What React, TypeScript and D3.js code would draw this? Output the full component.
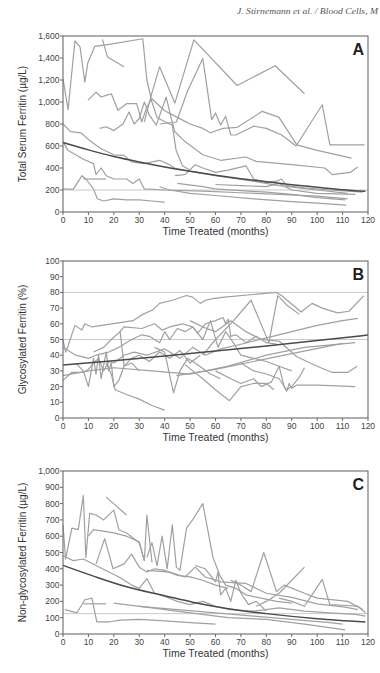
import * as d3 from 'd3';

type Pt = [number, number];

// months on the shared x axis
const monthTicks = [0, 10, 20, 30, 40, 50, 60, 70, 80, 90, 100, 110, 120];

// Panel A: total serum ferritin (µg/L)
const ferritinTicks = [0, 200, 400, 600, 800, 1000, 1200, 1400, 1600];
const ferritinRef = [200];
const ferritinFit: Pt[] = [[0, 632], [10, 565], [20, 505], [30, 455], [40, 410], [50, 370], [60, 335], [70, 303], [80, 275], [90, 248], [100, 225], [110, 203], [119, 188]];
const ferritinSubjects: Pt[][] = [
    [[0, 1210], [2, 930], [4.7, 1555], [6.7, 1500], [8.6, 1180], [9.8, 1360], [12.5, 1505], [20, 1530], [31.4, 1575], [33, 1200], [35, 1000], [37, 860], [40, 820], [43, 790], [44.5, 560], [47, 420], [50, 380]],
    [[15.5, 1570], [17.5, 1410], [24, 1320]],
    [[32, 820], [34.7, 1060], [38, 1320], [44, 990], [51.5, 1565], [68.5, 1150], [83.5, 1330], [95, 1075]],
    [[38, 800], [44.6, 818], [49, 1100], [55, 1395], [58.5, 840], [60, 900], [62, 790], [64, 870], [66, 700], [68, 700], [75, 780], [80, 760], [86, 700], [91.7, 600], [102, 975], [105, 610], [118.6, 610]],
    [[9.8, 1015], [13, 1090], [15, 1045], [17, 1060], [19, 1075], [21.6, 925], [25, 985], [29, 985], [31, 820], [33, 955], [35, 1030], [40, 920], [45, 860], [50, 800], [55, 760], [58, 720], [63, 760], [68.6, 770], [78.4, 915], [85, 860], [92, 610], [100, 560], [113.5, 490]],
    [[14.4, 760], [17, 775], [20, 740], [23.6, 800], [26, 910], [28, 800], [30, 850], [32, 1000], [34, 880], [36.7, 790], [40.6, 1045], [42.6, 850], [44, 730], [48, 640], [55, 520], [62, 470], [72, 500], [76, 460], [90, 430], [103, 400], [106, 340], [113, 360], [116, 410]],
    [[0, 800], [3, 730], [7, 720], [11, 640], [15, 575], [20, 520], [24, 515], [27, 455], [32, 440], [38, 470], [41, 440], [44, 400], [50, 370], [60, 330], [72, 290], [85, 240], [100, 200], [112, 170]],
    [[0, 640], [2, 560], [5, 520], [8, 480], [12, 440], [13, 340], [15, 400], [17, 330], [20, 300], [25, 300], [27.5, 260], [30, 300], [32, 210], [40, 200], [55, 190], [70, 175], [85, 160], [100, 145], [112, 120]],
    [[0, 210], [4, 205], [7.5, 330], [9, 300], [12, 210], [13.5, 120], [16, 100], [20, 120], [25, 110], [30, 110], [35, 100], [40, 90]],
    [[8, 300], [17, 300]],
    [[38, 230], [42, 200], [50, 170], [60, 150], [75, 120], [90, 95], [100, 80], [111.5, 62]],
    [[45, 260], [55, 230], [60, 210], [70, 195], [80, 180], [90, 160], [100, 130], [111, 110]],
    [[44, 330], [48, 340], [52, 430], [55, 400], [60, 360], [65, 380], [72, 420], [75, 300], [80, 270], [84, 280], [86, 300], [88, 240], [95, 220], [105, 200], [118, 180]],
    [[60, 250], [70, 240], [80, 230], [85, 260], [90, 200], [100, 170], [115, 160]],
];

// Panel B: glycosylated ferritin (%)
const glycoTicks = [0, 10, 20, 30, 40, 50, 60, 70, 80, 90, 100];
const glycoRef = [80, 50];
const glycoFit: Pt[] = [[0, 33.7], [20, 36.5], [40, 39.5], [60, 42.6], [80, 45.9], [100, 49.3], [120, 52.8]];
const glycoSubjects: Pt[][] = [
    [[0, 50], [1, 42], [2, 46], [4.7, 59], [7.4, 56], [8.6, 60], [11.4, 58], [27.5, 62], [31.4, 66], [35.4, 69], [38, 73], [43, 75], [48.6, 78], [51, 77], [54, 73], [56, 75], [59, 76], [63.5, 77], [84, 80], [86, 78], [93.7, 67.5], [98, 73], [102, 70], [108, 67], [112.5, 68], [118.4, 78]],
    [[0, 24], [3.4, 29], [8, 29], [10, 31], [12, 35], [14, 38], [16, 30], [18, 36], [20, 35], [24, 40], [28, 42], [33, 40], [40, 44], [46, 38], [51, 45], [56, 40], [62, 44], [70, 47], [82.5, 52], [90, 55], [100, 59], [110, 62], [116, 63.5]],
    [[5, 35], [8, 30], [10, 20], [12, 38], [13, 28], [14, 40], [15, 25], [17, 42], [18, 30], [19, 35], [20, 20], [22, 24], [24, 33], [27, 38], [30, 40], [34, 36], [38, 42], [42, 38], [46, 43], [50, 35], [54, 40]],
    [[17, 35], [19, 28], [20.5, 18], [25, 15], [30, 12], [35, 8], [40, 5]],
    [[0, 45], [5, 40], [10, 38], [13, 40], [18, 42], [22, 45], [27, 50], [31, 53], [34, 52], [38, 48], [40, 55], [42, 50], [45, 57], [48, 55], [51, 58], [55, 50], [58, 62], [61, 45], [64, 55], [67, 48], [70, 40], [75, 38], [80, 36], [85, 33], [90, 30]],
    [[12, 42], [16, 45], [19, 50], [22.5, 55], [24, 33], [27, 35], [30, 30]],
    [[22, 54], [24, 58], [31, 57], [36, 60], [39, 56], [42, 58], [47, 60], [51, 58], [53, 54], [56, 60], [60, 62], [63, 64], [64, 60], [65, 63], [66, 52], [68, 53], [72, 48], [76, 52], [80, 48], [84, 47]],
    [[50, 62], [55, 58], [60, 55], [66, 62], [72, 55], [78, 50], [85, 49], [92, 39], [100, 33], [106, 29], [112, 29], [115.7, 33]],
    [[60, 30], [66, 25], [70, 22], [75, 25], [78, 20], [82, 23], [85, 33], [87, 20], [88, 17], [89, 22], [90, 19], [92, 21], [100, 21], [115, 20]],
    [[70, 35], [75, 30], [80, 28], [85, 25], [88, 18], [90, 20], [93, 26], [95, 32]],
    [[36, 45], [40, 42], [43.5, 16], [46, 30], [49, 38], [52, 35], [58, 28], [62, 25]],
    [[48, 34], [55, 25], [60, 18], [65.5, 11], [70, 20], [75, 22], [80, 22], [83, 18]],
    [[55, 40], [60, 50], [66, 60], [74, 75], [81, 48], [84.5, 78], [88, 72], [93, 66]],
    [[44.6, 27], [60, 31], [75, 36], [90, 41], [110, 47.5]],
    [[0, 27], [10, 30], [20, 32], [35, 30], [50, 28], [65, 33], [80, 40], [95, 45], [115, 48]],
];

// Panel C: non-glycosylated ferritin (µg/L)
const nonGlycoTicks = [0, 100, 200, 300, 400, 500, 600, 700, 800, 900, 1000];
const nonGlycoRef = [125];
const nonGlycoFit: Pt[] = [[0, 421], [12, 355], [25, 290], [40, 235], [51, 195], [65, 155], [80, 125], [100, 94], [119, 74]];
const nonGlycoSubjects: Pt[][] = [
    [[0, 670], [1, 460], [3.5, 650], [6, 640], [8, 850], [9, 470], [10.5, 740], [13, 730], [16, 700], [20, 760], [22, 640], [25, 620], [30, 560], [32, 450]],
    [[17, 840], [25, 730]],
    [[10, 600], [12, 640], [20, 620], [25, 600], [30, 565], [32, 450], [33, 730], [35, 440]],
    [[0, 480], [4, 450], [8, 460], [13, 420], [18, 380], [22, 350], [27, 300], [30, 280], [33, 340], [36, 250], [40, 230], [45, 200], [50, 180], [55, 200], [60, 170], [66, 150], [75, 140], [85, 160], [95, 140], [105, 130], [115, 120], [119, 110]],
    [[13, 430], [16.4, 585], [19.7, 400], [24, 430], [27, 490], [30, 410], [33, 380], [36, 400], [40, 390], [45, 360], [50, 350], [55, 330], [60, 300], [65, 280]],
    [[0.8, 150], [5.5, 130], [8.6, 210], [11.4, 220], [13.3, 75], [18.4, 75], [22.4, 85], [30, 90], [40, 80], [50, 70], [60, 60]],
    [[20, 190], [35, 160], [50, 130], [65, 100], [80, 90], [95, 60], [111, 25]],
    [[30, 170], [45, 150], [60, 130], [75, 110], [90, 90], [105, 70], [110, 60]],
    [[8, 185], [17, 185]],
    [[33, 470], [35, 560], [37, 420], [39, 600], [41, 400], [43, 670], [44.6, 410], [46, 390], [48.6, 650], [51, 700], [55, 800], [59, 470], [61.7, 360], [64, 300], [68, 280], [72, 240], [78, 220], [84, 200], [90, 190]],
    [[66, 330], [70, 300], [74, 260], [79, 500], [84, 260], [87, 300], [95, 250], [100, 220], [112, 200], [118, 150]],
    [[85, 220], [90, 200], [95, 170], [102, 335], [105, 180], [112, 175], [116, 170], [119, 130]],
    [[76, 170], [80, 200], [85, 250], [90, 330], [95, 410]],
    [[52, 420], [56, 400], [60, 320], [61, 380], [62, 240], [64, 280], [66, 200], [68, 330], [70, 250], [73, 180], [76, 200], [80, 140]],
    [[33, 390], [42, 380], [48, 350], [52, 410], [56, 350], [62, 320], [72, 310], [80, 250], [90, 225], [100, 185], [111, 165], [116, 150]],
];

const FONT = "'Liberation Sans', Arial, sans-serif";
const fmt = d3.format(',');

interface PanelProps {
    top: number;
    bottom: number;
    yMax: number;
    yTicks: number[];
    refs: number[];
    fit: Pt[];
    subjects: Pt[][];
    letter: string;
    yLabel: string;
}

function Panel({ top, bottom, yMax, yTicks, refs, fit, subjects, letter, yLabel }: PanelProps) {
    const left = 63;
    const right = 368;
    const x = d3.scaleLinear().domain([0, 120]).range([left, right]);
    const y = d3.scaleLinear().domain([0, yMax]).range([bottom, top]);
    const line = d3.line<Pt>().x(d => x(d[0])).y(d => y(d[1]));
    const fitLine = d3.line<Pt>().x(d => x(d[0])).y(d => y(d[1])).curve(d3.curveMonotoneX);

    return (
        <g>
            {refs.map(r => (
                <line key={r} x1={left} x2={right} y1={y(r)} y2={y(r)} stroke="#bdbdbd" strokeWidth={0.8} />
            ))}
            {subjects.map((s, i) => (
                <path key={i} d={line(s) ?? ''} fill="none" stroke="#a0a0a0" strokeWidth={1.2} strokeLinejoin="round" />
            ))}
            <path d={fitLine(fit) ?? ''} fill="none" stroke="#4a4a4a" strokeWidth={1.5} />
            <rect x={left} y={top} width={right - left} height={bottom - top} fill="none" stroke="#6a6a6a" strokeWidth={1.1} />
            {yTicks.map(t => (
                <g key={t}>
                    <line x1={left - 3} x2={left} y1={y(t)} y2={y(t)} stroke="#6a6a6a" />
                    <text x={left - 3.5} y={y(t) + 3} textAnchor="end" fontSize={8.5} fill="#444" fontFamily={FONT}>{fmt(t)}</text>
                </g>
            ))}
            {monthTicks.map(t => (
                <g key={t}>
                    <line x1={x(t)} x2={x(t)} y1={bottom} y2={bottom + 3} stroke="#6a6a6a" />
                    <text x={x(t)} y={bottom + 11} textAnchor="middle" fontSize={8.5} fill="#444" fontFamily={FONT}>{t}</text>
                </g>
            ))}
            <text x={(left + right) / 2} y={bottom + 23} textAnchor="middle" fontSize={10.5} fill="#333" fontFamily={FONT}>Time Treated (months)</text>
            <text transform={`translate(26,${(top + bottom) / 2}) rotate(-90)`} textAnchor="middle" fontSize={10} fill="#333" fontFamily={FONT}>{yLabel}</text>
            <text x={right - 4} y={top + 19} textAnchor="end" fontSize={16} fontWeight="bold" fill="#222" fontFamily={FONT}>{letter}</text>
        </g>
    );
}

export default function App() {
    return (
        <svg width={380} height={673} style={{ position: 'absolute', left: 0, top: 0, background: '#fff' }}>
            <text x={237} y={14} fontSize={8.5} fontStyle="italic" fill="#555" fontFamily="'Liberation Serif', serif"
                textLength={141} lengthAdjust="spacingAndGlyphs">J. Stirnemann et al. / Blood Cells, M</text>
            <Panel top={36} bottom={212} yMax={1600} yTicks={ferritinTicks} refs={ferritinRef} fit={ferritinFit}
                subjects={ferritinSubjects} letter="A" yLabel="Total Serum Ferritin (µg/L)" />
            <Panel top={261} bottom={418} yMax={100} yTicks={glycoTicks} refs={glycoRef} fit={glycoFit}
                subjects={glycoSubjects} letter="B" yLabel="Glycosylated Ferritin (%)" />
            <Panel top={471} bottom={634} yMax={1000} yTicks={nonGlycoTicks} refs={nonGlycoRef} fit={nonGlycoFit}
                subjects={nonGlycoSubjects} letter="C" yLabel="Non-glycosylated Ferritin (µg/L)" />
        </svg>
    );
}
